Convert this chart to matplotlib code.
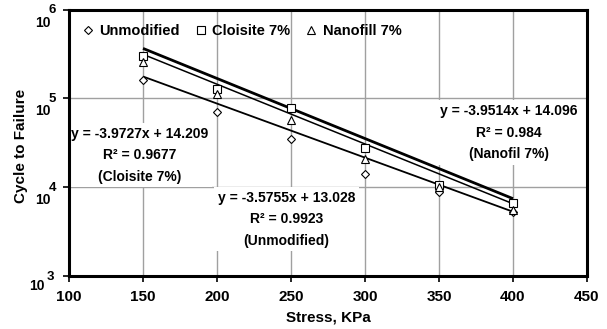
import numpy as np
import matplotlib
matplotlib.use("Agg")
import matplotlib.pyplot as plt
from matplotlib.lines import Line2D

plt.rcParams['font.family'] = ['Liberation Sans', 'DejaVu Sans']
plt.rcParams['font.weight'] = 'bold'

# Fatigue data: stress (KPa) and cycles to failure
stress = [150, 200, 250, 300, 350, 400]
unmodified = [160000, 71000, 35000, 14000, 8900, 5200]
cloisite = [300000, 128000, 78000, 28000, 10600, 6700]
nanofill = [257000, 111000, 57000, 20700, 10100, 5600]

# Trendline fits: log10(N) = slope * log10(S) + intercept, with R^2
fit_unmod = (-3.5755, 13.028, 0.9923)
fit_cloisite = (-3.9727, 14.209, 0.9677)
fit_nanofill = (-3.9514, 14.096, 0.984)

x_ticks = [100, 150, 200, 250, 300, 350, 400, 450]
y_exponents = [3, 4, 5, 6]

W, H = 607, 329
fig = plt.figure(figsize=(W / 100, H / 100), dpi=100)
ax_pos = [0.1137, 0.161, 0.8533, 0.8095]
ax = fig.add_axes(ax_pos)
ax.set_yscale('log')
ax.set_xlim(100, 450)
ax.set_ylim(1e3, 1e6)

grid_c = '#a0a0a0'
for xv in x_ticks[1:-1]:
    ax.axvline(xv, color=grid_c, lw=1.0, zorder=0)
for e in y_exponents[1:-1]:
    ax.axhline(10 ** e, color=grid_c, lw=1.0, zorder=0)


def trend(fit):
    s = np.array([stress[0], stress[-1]], dtype=float)
    return s, 10 ** (fit[0] * np.log10(s) + fit[1])


for fit, lw in [(fit_unmod, 1.3), (fit_nanofill, 1.1), (fit_cloisite, 2.0)]:
    xs, ys = trend(fit)
    ax.plot(xs, ys, color='black', lw=lw, zorder=3, solid_capstyle='butt')

mk = dict(linestyle='none', markerfacecolor='white', markeredgecolor='black',
          markeredgewidth=0.8)
ax.plot(stress, unmodified, marker='D', markersize=4.5, zorder=4, **mk)
ax.plot(stress, cloisite, marker='s', markersize=5.5, zorder=4, **mk)
ax.plot(stress, nanofill, marker='^', markersize=5.5, zorder=4, **mk)

# Fit labels on white boxes
box = dict(facecolor='white', edgecolor='none', pad=2.5)
fs = 10


def fit_text(x, y, fit, name):
    ax.text(x, y, f"y = {fit[0]}x + {fit[1]}\nR² = {fit[2]}\n({name})",
            ha='center', va='center', fontsize=fs, fontweight='bold',
            linespacing=1.7, bbox=box, zorder=2)


fit_text(148, 10 ** 4.36, fit_cloisite, 'Cloisite 7%')
fit_text(247, 10 ** 3.64, fit_unmod, 'Unmodified')
fit_text(397, 10 ** 4.615, fit_nanofill, 'Nanofil 7%')

# Legend
handles = [
    Line2D([], [], marker='D', markersize=4.5, **mk),
    Line2D([], [], marker='s', markersize=5.5, **mk),
    Line2D([], [], marker='^', markersize=5.5, **mk),
]
ax.legend(handles, ['Unmodified', 'Cloisite 7%', 'Nanofill 7%'], ncol=3,
          loc='center left', bbox_to_anchor=(0.005, 0.92), frameon=False,
          handlelength=0.8, handletextpad=0.42, columnspacing=1.0,
          prop={'weight': 'bold', 'size': 10.5}, borderpad=0.2)

# Axes styling
for sp in ax.spines.values():
    sp.set_linewidth(2.2)
    sp.set_zorder(5)
ax.set_xticks(x_ticks)
ax.set_xticklabels([str(v) for v in x_ticks], fontsize=11, fontweight='bold')
ax.set_yticks([10 ** e for e in y_exponents])
ax.set_yticklabels([])
ax.yaxis.set_minor_locator(matplotlib.ticker.NullLocator())
ax.tick_params(axis='both', which='major', direction='out', length=4, width=1.2, pad=6)

# Y tick labels as "10" with a raised exponent, placed in figure pixels
left_px = ax_pos[0] * W
for e in y_exponents:
    frac = (e - y_exponents[0]) / (y_exponents[-1] - y_exponents[0])
    tick_y = (ax_pos[1] + frac * ax_pos[3]) * H  # from bottom, pixels
    if e == y_exponents[0]:
        base_x, base_dy, exp_x = left_px - 32.5, -9.5, left_px - 18.5
    else:
        base_x, base_dy, exp_x = left_px - 26.5, -13.0, left_px - 16.5
    fig.text(base_x / W, (tick_y + base_dy) / H, '10', ha='center', va='center',
             fontsize=10, fontweight='bold')
    fig.text(exp_x / W, (tick_y - 0.5) / H, str(e), ha='center', va='center',
             fontsize=9.5, fontweight='bold')

ax.set_xlabel('Stress, KPa', fontsize=11, fontweight='bold', labelpad=5)
fig.text(21 / W, 1 - 146 / H, 'Cycle to Failure', rotation=90, ha='center',
         va='center', fontsize=11, fontweight='bold')

fig.savefig('out.png', dpi=100)
